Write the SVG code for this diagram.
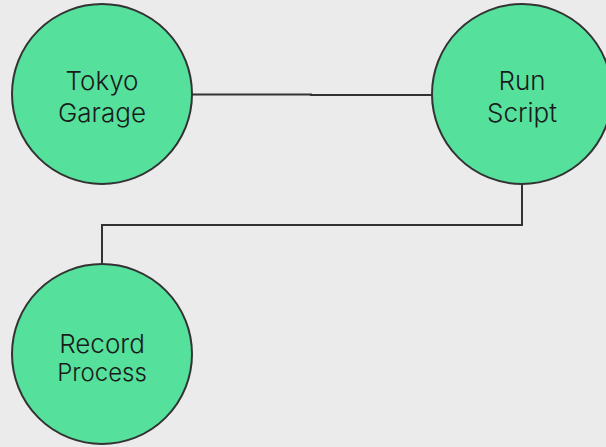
<svg xmlns="http://www.w3.org/2000/svg" width="606" height="447" viewBox="0 0 606 447">
<style>
.node{fill:#55e09c;stroke:#333333;stroke-width:2}
.lbl{font-family:Inter,Roboto,"Liberation Sans",sans-serif;font-weight:300;fill:#1a1a1a;text-anchor:middle}
.edge{fill:none;stroke:#333333;stroke-width:2}
</style>
<rect width="606" height="447" fill="#ebebeb"/>
<g id="connectors">
<path class="edge" d="M192 94.5 H311 V95 H432"/>
<path class="edge" d="M522 184 V225 H102 V264"/>
</g>
<g id="tokyo-garage">
<circle class="node" cx="102" cy="94" r="90"/>
<text class="lbl" x="102" y="90" font-size="26">Tokyo</text>
<text class="lbl" x="102" y="122" font-size="26">Garage</text>
</g>
<g id="run-script">
<circle class="node" cx="522" cy="94" r="90"/>
<text class="lbl" x="522" y="90" font-size="26">Run</text>
<text class="lbl" x="522" y="122" font-size="26">Script</text>
</g>
<g id="record-process">
<circle class="node" cx="102" cy="354" r="90"/>
<text class="lbl" x="102" y="352.5" font-size="26">Record</text>
<text class="lbl" x="102" y="381" font-size="24">Process</text>
</g>
</svg>
